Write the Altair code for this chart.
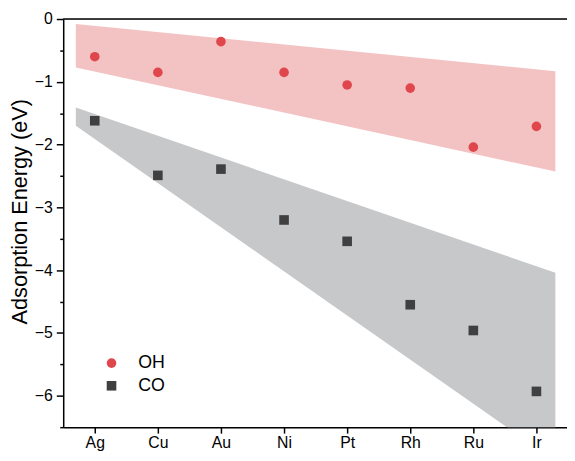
import altair as alt
import pandas as pd

# ---- data ----
metals = ["Ag", "Cu", "Au", "Ni", "Pt", "Rh", "Ru", "Ir"]
oh_energy = [-0.60, -0.85, -0.36, -0.85, -1.05, -1.10, -2.04, -1.71]
co_energy = [-1.62, -2.49, -2.39, -3.20, -3.54, -4.55, -4.96, -5.93]

band_x = [-0.3, 7.3]
oh_band_upper = [-0.08, -0.83]
oh_band_lower = [-0.77, -2.43]
co_band_upper = [-1.41, -4.04]
co_band_lower = [-1.70, -7.04]

y_major = [0, -1, -2, -3, -4, -5, -6]
y_minor = [-0.5, -1.5, -2.5, -3.5, -4.5, -5.5, -6.5]

series = ["OH", "CO"]
series_colors = ["#E0474C", "#404040"]
series_shapes = ["circle", "square"]
band_colors = ["#F3C3C4", "#C7C8CA"]

FONT = "Liberation Sans"

# ---- tables ----
idx = list(range(len(metals)))
points = pd.DataFrame({
    "x": idx + idx,
    "energy": oh_energy + co_energy,
    "Adsorbate": ["OH"] * len(metals) + ["CO"] * len(metals),
})
oh_band = pd.DataFrame({"x": band_x, "upper": oh_band_upper, "lower": oh_band_lower})
co_band = pd.DataFrame({"x": band_x, "upper": co_band_upper, "lower": co_band_lower})

W, H = 511, 414
x_scale = alt.Scale(domain=[-0.5, -0.5 + W / 64.0], nice=False, zero=False)
y_scale = alt.Scale(domain=[-6.5, 0], nice=False, zero=False)

label_expr = "[" + ",".join("'%s'" % m for m in metals) + "][round(datum.value)]"

x_axis = alt.Axis(values=idx, labelExpr=label_expr, title=None, grid=False,
                  labelFont=FONT, labelFontSize=16, labelColor="black",
                  tickSize=6, tickColor="black", tickWidth=1.5,
                  domainColor="black", domainWidth=1.5, labelPadding=2)
y_axis = alt.Axis(values=y_major, format="d", title="Adsorption Energy (eV)", grid=False,
                  labelFont=FONT, labelFontSize=16, labelColor="black",
                  titleFont=FONT, titleFontSize=22, titleFontWeight="normal", titleColor="black",
                  tickSize=7, tickColor="black", tickWidth=1.5,
                  domainColor="black", domainWidth=1.5, labelPadding=4,
                  titleX=-37.5, titleY=195, titleBaseline="alphabetic", titleAngle=270)
y_axis_minor = alt.Axis(values=y_minor, labels=False, title=None, grid=False, orient="left",
                        tickSize=3.5, tickColor="black", tickWidth=1.5, domain=False)

oh_area = alt.Chart(oh_band).mark_area(color=band_colors[0], opacity=1, clip=True).encode(
    x=alt.X("x:Q", scale=x_scale, axis=x_axis),
    y=alt.Y("upper:Q", scale=y_scale, axis=y_axis),
    y2="lower:Q",
)
co_area = alt.Chart(co_band).mark_area(color=band_colors[1], opacity=1, clip=True).encode(
    x=alt.X("x:Q", scale=x_scale, axis=x_axis),
    y=alt.Y("upper:Q", scale=y_scale, axis=y_axis),
    y2="lower:Q",
)
pts = alt.Chart(points).mark_point(filled=True, opacity=1, size=95).encode(
    x=alt.X("x:Q", scale=x_scale, axis=x_axis),
    y=alt.Y("energy:Q", scale=y_scale, axis=y_axis),
    color=alt.Color("Adsorbate:N", scale=alt.Scale(domain=series, range=series_colors),
                    legend=alt.Legend(title=None, orient="none", legendX=40, legendY=340,
                                      labelFont=FONT, labelFontSize=18, labelColor="black",
                                      symbolSize=95, labelOffset=18, rowPadding=5,
                                      padding=0, symbolStrokeWidth=0)),
    shape=alt.Shape("Adsorbate:N", scale=alt.Scale(domain=series, range=series_shapes)),
)
top_line = alt.Chart(pd.DataFrame({"y": [0]})).mark_rule(color="black", strokeWidth=1.5).encode(
    y=alt.Y("y:Q", scale=y_scale, axis=y_axis),
    x=alt.value(0), x2=alt.value(W),
)
minor = alt.Chart(pd.DataFrame({"y": [0]})).mark_rule(opacity=0).encode(
    y=alt.Y("y:Q", scale=y_scale, axis=y_axis_minor),
    x=alt.value(0), x2=alt.value(1),
)

main = alt.layer(oh_area, co_area, pts, top_line)
chart = alt.layer(main, minor).resolve_scale(y="independent").resolve_axis(y="independent").properties(
    width=W, height=H,
    autosize=alt.AutoSizeParams(type="none"),
    padding={"left": 56, "top": 8, "right": 0, "bottom": 23},
).configure_view(stroke=None).configure(background="white")

chart.save("out.html", embed_options={"renderer": "svg", "actions": False})
